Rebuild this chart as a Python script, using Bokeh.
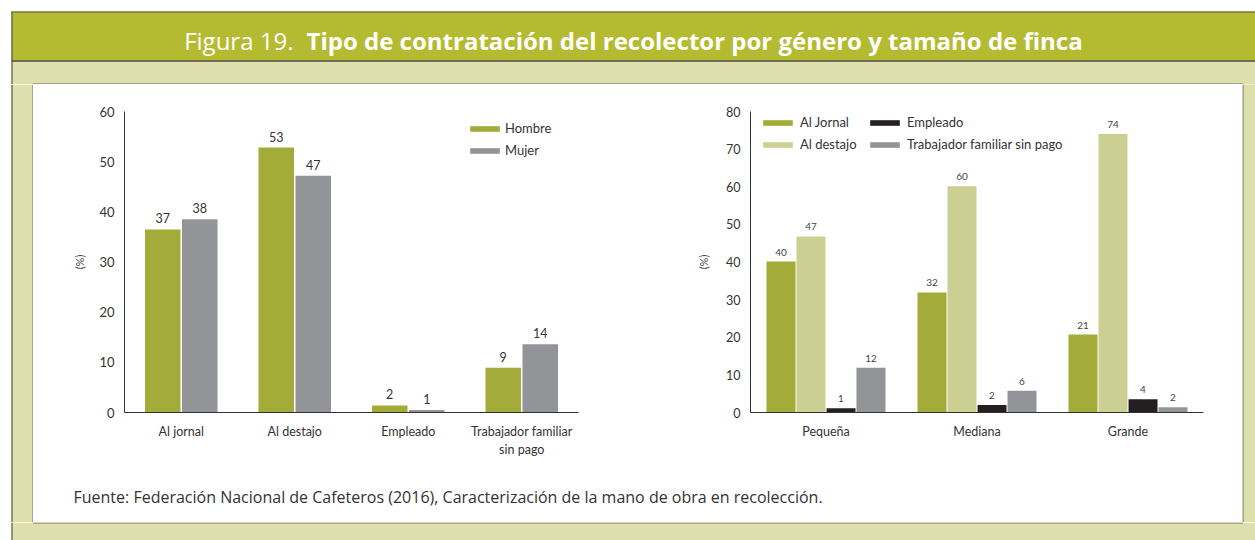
from bokeh.plotting import figure
from bokeh.models import Range1d, FactorRange, FixedTicker, Legend, LegendItem, ColumnDataSource
from bokeh.transform import dodge
from bokeh.layouts import column, row
from bokeh.embed import file_html
from bokeh.resources import INLINE
from bokeh.core.properties import value

FONT = "Lato"
TFONT = "Open Sans"

# ---------------- data ----------------
title_light = "Figura 19."
title_bold = "Tipo de contratación del recolector por género y tamaño de finca"
source_text = "Fuente: Federación Nacional de Cafeteros (2016), Caracterización de la mano de obra en recolección."

# left chart: tipo de contratación por género
tipos = ["Al jornal", "Al destajo", "Empleado", "Trabajador familiar\nsin pago"]
hombre = [36.5, 52.8, 1.4, 8.9]
mujer = [38.5, 47.2, 0.5, 13.6]
hombre_lbl = ["37", "53", "2", "9"]
mujer_lbl = ["38", "47", "1", "14"]
left_ticks = [0, 10, 20, 30, 40, 50, 60]

# right chart: tipo de contratación por tamaño de finca
tamanos = ["Pequeña", "Mediana", "Grande"]
al_jornal = [40.1, 31.9, 20.7]
al_destajo = [46.8, 60.1, 74.0]
empleado = [1.1, 2.0, 3.5]
trab_fam = [11.9, 5.8, 1.4]
al_jornal_lbl = ["40", "32", "21"]
al_destajo_lbl = ["47", "60", "74"]
empleado_lbl = ["1", "2", "4"]
trab_fam_lbl = ["12", "6", "2"]
right_ticks = [0, 10, 20, 30, 40, 50, 60, 70, 80]

# ---------------- styles ----------------
C_TITLE = "#b5bb31"
C_BG = "#dde0ac"
C_LINE = "#5a5a50"
C_PANEL_LINE = "#6b6b6b"
C_GREEN = "#a3ab39"
C_GREY = "#939497"
C_LIGHT = "#cbcf91"
C_BLACK = "#231f20"
C_TEXT = "#333333"

W = 1255
H = 540
HDR_H = 84
MID_H = 438
FTR_H = H - HDR_H - MID_H
LS_W = 33
PANEL_W = 1209
RS_W = W - LS_W - PANEL_W


def deco(w, h, bg="white"):
    f = figure(width=w, height=h, x_range=Range1d(0, w), y_range=Range1d(h, 0),
               min_border=0, toolbar_location=None, output_backend="svg",
               x_axis_type=None, y_axis_type=None, tools="")
    f.outline_line_color = None
    f.background_fill_color = bg
    f.border_fill_color = bg
    return f


# header
hdr = deco(W, HDR_H)
hdr.quad(left=[11], right=[W], top=[11], bottom=[60], fill_color=C_TITLE, line_color=None)
hdr.quad(left=[11], right=[W], top=[60], bottom=[HDR_H], fill_color=C_BG, line_color=None)
hdr.segment(x0=[11, 11.5], y0=[11.5, 11], x1=[W, 11.5], y1=[11.5, HDR_H],
            line_color=C_LINE, line_width=1.2)
hdr.segment(x0=[11], y0=[60.5], x1=[W], y1=[60.5], line_color="#4a4a3c", line_width=1.5)
hdr.segment(x0=[32.5], y0=[83.5], x1=[1242.5], y1=[83.5], line_color=C_PANEL_LINE, line_width=1)
hdr.text(x=[293], y=[40], text=[title_light], text_align="right", text_baseline="alphabetic",
         text_font=value(TFONT), text_font_size="24px", text_color="white", text_font_style="normal")
hdr.text(x=[306], y=[40], text=[title_bold], text_align="left", text_baseline="alphabetic",
         text_font=value(TFONT), text_font_size="24px", text_color="white", text_font_style="bold")

# side strips
lstrip = deco(LS_W, MID_H)
lstrip.quad(left=[11], right=[LS_W], top=[0], bottom=[MID_H], fill_color=C_BG, line_color=None)
lstrip.segment(x0=[11.5], y0=[0], x1=[11.5], y1=[MID_H], line_color=C_LINE, line_width=1.2)
lstrip.segment(x0=[LS_W - 0.5], y0=[0], x1=[LS_W - 0.5], y1=[MID_H], line_color=C_PANEL_LINE, line_width=1)

rstrip = deco(RS_W, MID_H, bg=C_BG)
rstrip.segment(x0=[0.5], y0=[0], x1=[0.5], y1=[MID_H], line_color=C_PANEL_LINE, line_width=1)

ftr = deco(W, FTR_H)
ftr.quad(left=[11], right=[W], top=[0], bottom=[FTR_H], fill_color=C_BG, line_color=None)
ftr.segment(x0=[11.5], y0=[0], x1=[11.5], y1=[FTR_H], line_color=C_LINE, line_width=1.2)
ftr.segment(x0=[LS_W - 0.5], y0=[0.5], x1=[LS_W + PANEL_W + 0.5], y1=[0.5],
            line_color=C_PANEL_LINE, line_width=1)


def style_axes(p, ticks, label_standoff, ytick_size):
    for ax in p.axis:
        ax.major_tick_line_color = None
        ax.minor_tick_line_color = None
        ax.major_tick_out = 0
        ax.major_tick_in = 0
        ax.axis_line_color = C_TEXT
        ax.axis_line_width = 1
        ax.major_label_text_font = FONT
        ax.major_label_text_font_size = "12.5px"
        ax.major_label_text_color = C_TEXT
        ax.major_label_standoff = 10
    p.xaxis.major_label_standoff = 11
    p.yaxis.major_label_text_font_size = ytick_size
    p.yaxis.ticker = FixedTicker(ticks=ticks)
    p.yaxis.axis_label = "(%)"
    p.yaxis.axis_label_text_font = FONT
    p.yaxis.axis_label_text_font_size = "11px"
    p.yaxis.axis_label_text_font_style = "normal"
    p.yaxis.axis_label_text_color = "#444444"
    p.yaxis.axis_label_standoff = label_standoff
    p.grid.visible = False
    p.outline_line_color = None


CH_H = 378

# ---------------- left chart ----------------
pl = figure(width=617, height=CH_H, x_range=FactorRange(factors=tipos), y_range=Range1d(0, 60),
            min_border_left=91, min_border_right=72, min_border_top=27, min_border_bottom=50,
            toolbar_location=None, output_backend="svg", tools="")
style_axes(pl, left_ticks, 10, "13px")

src_l = ColumnDataSource(dict(tipo=tipos, hombre=hombre, mujer=mujer, hl=hombre_lbl, ml=mujer_lbl))
LW, LO = 0.313, 0.163
r_h = pl.vbar(x=dodge("tipo", -LO, range=pl.x_range), top="hombre", width=LW, source=src_l,
              fill_color=C_GREEN, line_color=None)
r_m = pl.vbar(x=dodge("tipo", LO, range=pl.x_range), top="mujer", width=LW, source=src_l,
              fill_color=C_GREY, line_color=None)
for off, col, lab in [(-LO, "hombre", "hl"), (LO, "mujer", "ml")]:
    pl.text(x=dodge("tipo", off, range=pl.x_range), y=col, text=lab, source=src_l,
            text_align="center", text_baseline="bottom", y_offset=-6,
            text_font=value(FONT), text_font_size="12.5px", text_color=C_TEXT)

leg_l = Legend(items=[LegendItem(label="Hombre", renderers=[r_h]),
                      LegendItem(label="Mujer", renderers=[r_m])],
               location=(342, 254), glyph_width=37, glyph_height=7, label_height=13,
               spacing=6, padding=0, margin=0, border_line_color=None,
               background_fill_alpha=0, label_standoff=2,
               label_text_font=FONT, label_text_font_size="13px", label_text_color=C_TEXT)
pl.add_layout(leg_l)

# ---------------- right chart ----------------
pr = figure(width=592, height=CH_H, x_range=FactorRange(factors=tamanos), y_range=Range1d(0, 80),
            min_border_left=100, min_border_right=39, min_border_top=27, min_border_bottom=50,
            toolbar_location=None, output_backend="svg", tools="")
style_axes(pr, right_ticks, 13, "12.5px")

src_r = ColumnDataSource(dict(tam=tamanos, jornal=al_jornal, destajo=al_destajo, empleado=empleado,
                              trab=trab_fam, jl=al_jornal_lbl, dl=al_destajo_lbl,
                              el=empleado_lbl, tl=trab_fam_lbl))
RW = 0.192
series_r = [("jornal", "jl", -0.298, C_GREEN), ("destajo", "dl", -0.0995, C_LIGHT),
            ("empleado", "el", 0.0995, C_BLACK), ("trab", "tl", 0.298, C_GREY)]
rends_r = []
for col, lab, off, colr in series_r:
    r = pr.vbar(x=dodge("tam", off, range=pr.x_range), top=col, width=RW, source=src_r,
                fill_color=colr, line_color=None)
    rends_r.append(r)
    pr.text(x=dodge("tam", off, range=pr.x_range), y=col, text=lab, source=src_r,
            text_align="center", text_baseline="bottom", y_offset=-6,
            text_font=value(FONT), text_font_size="10px", text_color="#444444")

leg_r = Legend(items=[LegendItem(label="Al Jornal", renderers=[rends_r[0]]),
                      LegendItem(label="Al destajo", renderers=[rends_r[1]]),
                      LegendItem(label="Empleado", renderers=[rends_r[2]]),
                      LegendItem(label="Trabajador familiar sin pago", renderers=[rends_r[3]])],
               location=(9, 260), nrows=2, glyph_width=37, glyph_height=7, label_height=13,
               label_width=60, spacing=6, padding=0, margin=0, border_line_color=None,
               background_fill_alpha=0, label_standoff=4,
               label_text_font=FONT, label_text_font_size="13px", label_text_color=C_TEXT)
pr.add_layout(leg_r)

# ---------------- source ----------------
srcf = deco(PANEL_W, MID_H - CH_H)
srcf.text(x=[40], y=[34], text=[source_text], text_align="left", text_baseline="alphabetic",
          text_font=value(TFONT), text_font_size="16px", text_color=C_TEXT)

panel = column(row(pl, pr), srcf)
middle = row(lstrip, panel, rstrip)
page = column(hdr, middle, ftr)

open("out.html", "w").write(file_html(page, INLINE))
